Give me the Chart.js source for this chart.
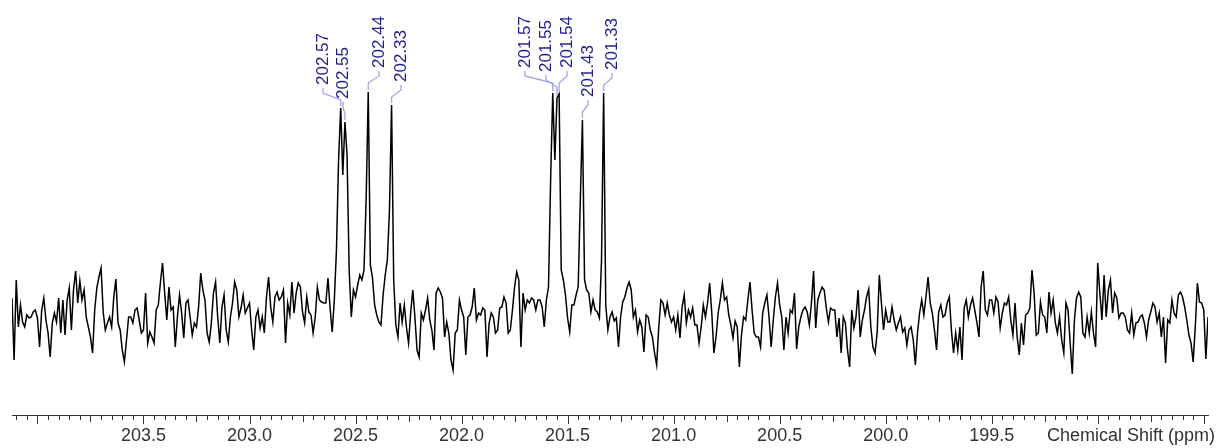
<!DOCTYPE html>
<html>
<head>
<meta charset="utf-8">
<script src="https://cdn.jsdelivr.net/npm/chart.js@4.4.1/dist/chart.umd.min.js"></script>
<style>
  html, body { margin: 0; padding: 0; background: #fff; }
  #wrap { width: 1218px; height: 448px; }
</style>
</head>
<body>
<div id="wrap"><canvas id="spectrum" width="1218" height="448"></canvas></div>
<script>
// 13C carbonyl region, one point every 0.01 ppm starting at the left edge
const shiftStart = 204.12;
const shiftStep = 0.01;

const intensity = [
  82, 20, 100, 53, 75, 58, 53, 65, 62, 63,
  68, 70, 62, 33, 70, 82, 60, 47, 23, 57,
  67, 58, 82, 47, 80, 45, 80, 92, 50, 90,
  109, 77, 99, 80, 90, 63, 53, 43, 27, 70,
  92, 103, 112, 68, 50, 57, 63, 53, 83, 101,
  57, 50, 30, 18, 40, 63, 63, 57, 70, 72,
  60, 47, 50, 87, 37, 48, 43, 37, 70, 75,
  98, 117, 87, 60, 93, 70, 73, 33, 63, 85,
  67, 42, 77, 80, 63, 45, 57, 53, 73, 107,
  90, 80, 47, 38, 57, 87, 98, 63, 37, 73,
  85, 50, 38, 63, 77, 98, 90, 63, 72, 85,
  67, 72, 77, 50, 30, 63, 70, 52, 63, 47,
  83, 103, 73, 58, 83, 88, 80, 83, 90, 37,
  77, 65, 98, 67, 87, 97, 93, 68, 57, 83,
  68, 65, 47, 63, 93, 80, 78, 77, 77, 102,
  72, 48, 80, 130, 220, 272, 205, 258, 225, 110,
  63, 90, 83, 95, 105, 100, 110, 180, 288, 115,
  102, 75, 65, 58, 55, 85, 105, 120, 170, 275,
  100, 55, 43, 77, 58, 75, 53, 37, 67, 90,
  63, 30, 23, 67, 60, 70, 82, 60, 50, 30,
  87, 92, 88, 82, 43, 58, 47, 20, 10, 47,
  50, 80, 70, 63, 25, 63, 65, 73, 92, 60,
  67, 65, 72, 70, 23, 57, 67, 63, 47, 50,
  72, 73, 83, 77, 47, 50, 70, 93, 108, 100,
  33, 87, 70, 80, 77, 82, 80, 70, 80, 80,
  73, 53, 80, 93, 200, 287, 220, 282, 286, 110,
  100, 85, 62, 48, 75, 75, 85, 93, 180, 260,
  100, 90, 87, 68, 80, 70, 68, 62, 120, 287,
  75, 50, 63, 68, 59, 62, 33, 63, 78, 83,
  92, 98, 90, 63, 70, 48, 60, 53, 28, 65,
  63, 50, 43, 27, 15, 53, 80, 77, 65, 77,
  65, 58, 63, 50, 65, 42, 73, 85, 57, 70,
  63, 72, 55, 55, 37, 53, 75, 63, 77, 97,
  67, 27, 43, 67, 80, 97, 80, 83, 65, 55,
  42, 59, 53, 13, 45, 63, 60, 80, 98, 70,
  47, 43, 43, 33, 67, 77, 85, 63, 33, 60,
  83, 97, 75, 63, 30, 63, 47, 70, 67, 87,
  31, 53, 63, 70, 73, 68, 55, 77, 109, 52,
  80, 87, 93, 90, 72, 58, 72, 70, 70, 43,
  62, 27, 63, 57, 30, 13, 70, 52, 63, 90,
  43, 60, 70, 83, 91, 53, 33, 27, 48, 105,
  77, 50, 70, 58, 58, 73, 60, 50, 57, 63,
  48, 52, 35, 50, 53, 40, 15, 47, 67, 80,
  65, 83, 103, 77, 67, 50, 30, 68, 75, 63,
  65, 77, 83, 50, 27, 47, 30, 53, 20, 72,
  80, 63, 75, 82, 70, 58, 43, 93, 109, 70,
  65, 80, 80, 67, 83, 78, 52, 67, 77, 75,
  83, 60, 45, 77, 43, 25, 57, 35, 65, 67,
  72, 110, 87, 45, 47, 78, 65, 63, 47, 88,
  67, 80, 57, 47, 63, 40, 27, 77, 70, 37,
  6, 60, 82, 88, 83, 47, 43, 63, 47, 68,
  47, 33, 117, 87, 60, 105, 63, 90, 100, 67,
  87, 82, 62, 67, 67, 63, 50, 47, 67, 45,
  57, 58, 63, 65, 57, 43, 60, 68, 77, 73,
  58, 67, 43, 63, 17, 60, 57, 80, 67, 63,
  85, 88, 83, 73, 60, 45, 37, 18, 53, 97,
  78, 77, 70, 21, 63
];

// picked peaks (ppm)
const peakShifts = [202.57, 202.55, 202.44, 202.33, 201.57, 201.55, 201.54, 201.43, 201.33];

const tickLabels = ['203.5', '203.0', '202.5', '202.0', '201.5', '201.0', '200.5', '200.0', '199.5'];
const axisTitle = 'Chemical Shift (ppm)';

const shiftEnd = +(shiftStart - (intensity.length - 1) * shiftStep).toFixed(2);
const points = intensity.map((v, i) => ({ x: +(shiftStart - i * shiftStep).toFixed(2), y: v }));

const FONT = '"Liberation Sans", Arial, sans-serif';

// where each peak label sits: [text centre x, text bottom y]
const peakLabelSpots = [
  [323, 85], [343, 99], [379, 68], [401, 82],
  [525, 68], [546, 72], [567, 68], [588, 97], [612, 70]
];

const axisTicks = {
  id: 'axisTicks',
  afterDraw(chart) {
    const sx = chart.scales.x;
    const ctx = chart.ctx;
    const y0 = chart.chartArea.bottom;
    ctx.save();
    ctx.strokeStyle = '#333';
    ctx.lineWidth = 1;
    for (let k = Math.ceil(sx.min * 20); k <= Math.floor(sx.max * 20); k++) {
      const px = Math.round(sx.getPixelForValue(k / 20)) + 0.5;
      const len = k % 10 === 0 ? 9 : (k % 5 === 0 ? 7 : 5);
      ctx.beginPath();
      ctx.moveTo(px, y0);
      ctx.lineTo(px, y0 + len);
      ctx.stroke();
    }
    ctx.font = '18px ' + FONT;
    ctx.fillStyle = '#333';
    ctx.textAlign = 'right';
    ctx.textBaseline = 'middle';
    ctx.fillText(axisTitle, chart.width - 3, 436);
    ctx.restore();
  }
};

const peakLabels = {
  id: 'peakLabels',
  afterDatasetsDraw(chart) {
    const sx = chart.scales.x, sy = chart.scales.y;
    const ctx = chart.ctx;
    ctx.save();
    peakShifts.forEach((ppm, n) => {
      const idx = Math.round((shiftStart - ppm) / shiftStep);
      const px = sx.getPixelForValue(ppm);
      const py = sy.getPixelForValue(intensity[idx]);
      const [lx, yb] = peakLabelSpots[n];

      ctx.strokeStyle = '#a4a4e4';
      ctx.lineWidth = 1.3;
      ctx.beginPath();
      ctx.moveTo(lx, yb + 3);
      ctx.lineTo(lx, yb + 8);
      ctx.lineTo(px, yb + 15);
      ctx.lineTo(px, Math.max(yb + 15, py - 2));
      ctx.stroke();

      ctx.save();
      ctx.translate(lx, yb);
      ctx.rotate(-Math.PI / 2);
      ctx.font = '17px ' + FONT;
      ctx.fillStyle = '#1e1e8c';
      ctx.textAlign = 'left';
      ctx.textBaseline = 'middle';
      ctx.fillText(ppm.toFixed(2), 0, 0);
      ctx.restore();
    });
    ctx.restore();
  }
};

new Chart(document.getElementById('spectrum'), {
  type: 'line',
  data: {
    datasets: [{
      data: points,
      borderColor: '#000',
      borderWidth: 1.5,
      pointRadius: 0,
      tension: 0,
      fill: false
    }]
  },
  options: {
    responsive: false,
    animation: false,
    devicePixelRatio: 1,
    layout: { padding: { left: 12, right: 5, top: 0, bottom: 0 } },
    plugins: { legend: { display: false }, tooltip: { enabled: false } },
    scales: {
      x: {
        type: 'linear',
        reverse: true,
        min: shiftEnd,
        max: shiftStart,
        afterFit(scale) { scale.height = 33; },
        grid: { display: false, drawTicks: false },
        border: { display: true, color: '#333', width: 1 },
        ticks: {
          stepSize: 0.5,
          autoSkip: false,
          maxRotation: 0,
          padding: 10,
          color: '#333',
          font: { family: FONT, size: 18 },
          callback(v) {
            const s = Number(v).toFixed(1);
            return tickLabels.includes(s) ? s : '';
          }
        }
      },
      y: { display: false, min: -35, max: 380 }
    }
  },
  plugins: [axisTicks, peakLabels]
});
</script>
</body>
</html>
